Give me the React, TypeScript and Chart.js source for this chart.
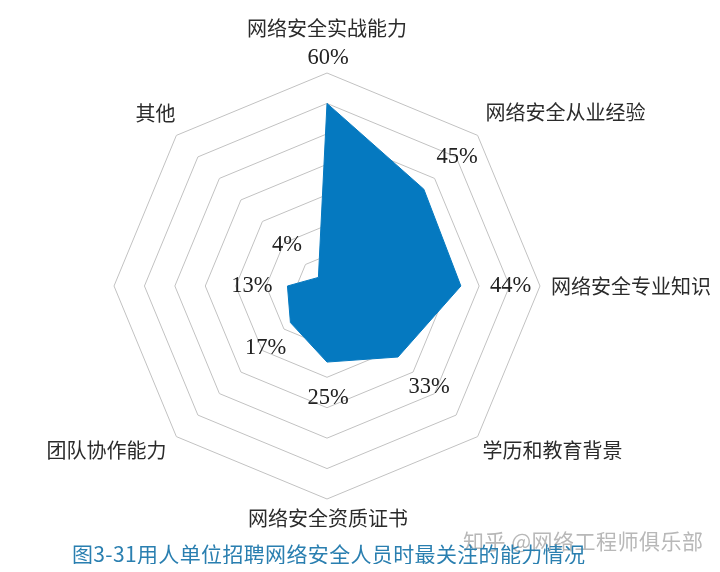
import React, { useEffect, useRef } from 'react';
import Chart from 'chart.js/auto';

const categories = ['网络安全实战能力', '网络安全从业经验', '网络安全专业知识', '学历和教育背景', '网络安全资质证书', '团队协作能力', '', '其他'];
const values = [60, 45, 44, 33, 25, 17, 13, 4];
const gridColor = '#c2c2c2';
const fillColor = '#0579c0';
const cjkFont = '"Noto Sans CJK SC", sans-serif';
const numFont = '"Liberation Serif", serif';

export default function App() {
  const chartRef = useRef<HTMLCanvasElement>(null);

  useEffect(() => {
    if (!chartRef.current) return;
    // category and value labels are placed by hand, the built-in point labels push the radar around
    const labelsPlugin = {
      id: 'radarLabels',
      afterDatasetsDraw(chart: any) {
        const ctx = chart.ctx;
        const r = chart.scales.r;
        ctx.save();
        ctx.textBaseline = 'middle';

        ctx.font = `22.5px ${numFont}`;
        ctx.fillStyle = '#222';
        ctx.textAlign = 'center';
        const gaps = [15, 15, 16, 14, 12, 12, 12, 15];
        values.forEach((v, i) => {
          const p = r.getPointPositionForValue(i, v + gaps[i]);
          ctx.fillText(`${v}%`, p.x + 1, p.y);
        });

        ctx.font = `20px ${cjkFont}`;
        ctx.fillStyle = '#2b2b2b';
        const aligns = ['center', 'left', 'left', 'left', 'center', 'right', 'left', 'right'];
        const nudgeX = [0, 8, 11, 5, 1, -10, 0, -1];
        const nudgeY = [-45, -23, 0, 14, 19, 14, 0, -22];
        categories.forEach((c, i) => {
          const p = r.getPointPositionForValue(i, 70);
          ctx.textAlign = aligns[i];
          ctx.fillText(c, p.x + nudgeX[i], p.y + nudgeY[i]);
        });
        ctx.restore();
      }
    };
    const chart = new Chart(chartRef.current, {
      type: 'radar',
      data: {
        labels: categories,
        datasets: [{
          data: values,
          fill: true,
          backgroundColor: fillColor,
          borderColor: fillColor,
          borderWidth: 1,
          pointRadius: 0
        }]
      },
      options: {
        animation: false,
        responsive: false,
        layout: { padding: { top: 73, bottom: 73, left: 114, right: 180 } },
        scales: {
          r: {
            min: 0,
            max: 70,
            ticks: { stepSize: 10, display: false },
            grid: { color: gridColor, lineWidth: 1 },
            angleLines: { display: false },
            pointLabels: { display: false }
          }
        },
        plugins: {
          legend: { display: false },
          tooltip: { enabled: false }
        }
      },
      plugins: [labelsPlugin]
    });
    return () => chart.destroy();
  }, []);

  return (
    <div style={{ position: 'relative', width: 720, height: 572, margin: -8, background: '#fff', overflow: 'hidden' }}>
      <canvas ref={chartRef} width={720} height={572} style={{ display: 'block' }} />
      <div style={{ position: 'absolute', left: 463, top: 525, color: '#b8b8b8', fontSize: 21, letterSpacing: 0.5, lineHeight: '30px', whiteSpace: 'nowrap', fontFamily: cjkFont }}>知乎 @网络工程师俱乐部</div>
      <div style={{ position: 'absolute', left: 72, top: 538, color: '#2a7fb0', fontSize: 21, letterSpacing: 0.35, lineHeight: '30px', whiteSpace: 'nowrap', fontFamily: cjkFont }}>图3-31用人单位招聘网络安全人员时最关注的能力情况</div>
    </div>
  );
}
